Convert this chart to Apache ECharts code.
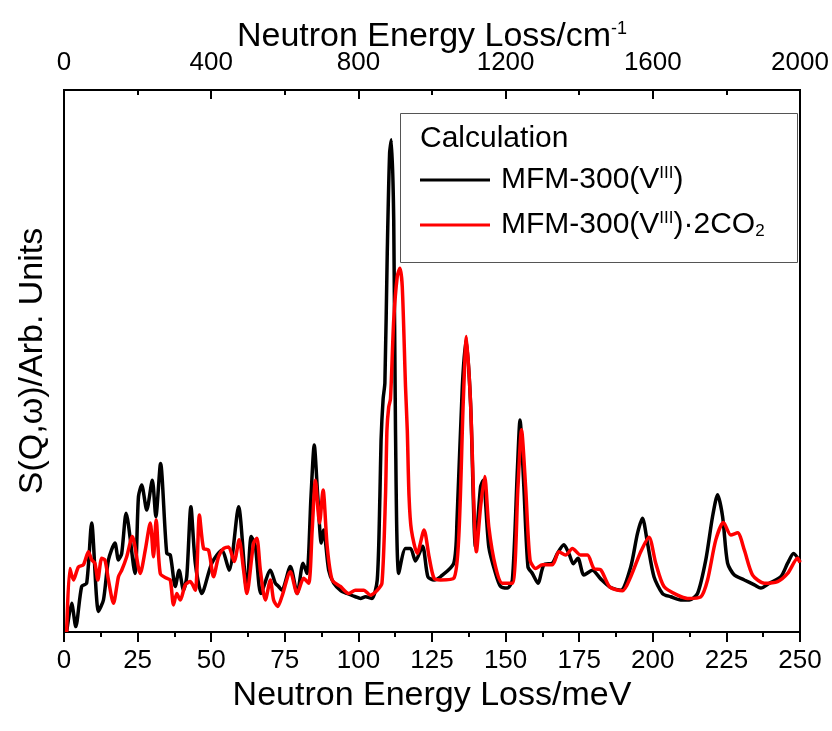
<!DOCTYPE html>
<html>
<head>
<meta charset="utf-8">
<script src="https://cdn.jsdelivr.net/npm/echarts@6/dist/echarts.min.js"></script>
<style>html,body{margin:0;padding:0;background:#fff}#c{width:832px;height:731px}</style>
</head>
<body>
<div id="c"></div>
<script>
// Energy (meV) and intensity (arb. units, 0-100 = full frame height)
const bareEnergy = [0.9,2.6,4.0,6.0,7.7,9.4,11.7,13.4,15.1,17.3,18.5,19.6,21.1,24.1,25.3,26.4,28.1,30.0,31.2,32.8,34.9,36.1,37.8,39.1,40.6,41.7,43.1,44.6,46.8,50.2,53.6,56.1,59.3,62.1,63.6,65.0,66.9,70.1,71.8,72.9,74.0,76.9,79.2,81.2,82.5,83.9,85.0,86.2,87.4,88.2,89.9,91.6,93.9,96.1,99.0,100.7,102.4,104.6,106.4,107.3,107.7,108.4,109.0,109.8,110.6,111.2,112.0,112.6,113.7,116.0,117.7,119.4,121.8,123.6,125.7,127.9,132.4,133.5,135.3,136.6,138.1,139.8,141.5,142.4,144.3,146.6,148.3,150.6,152.3,154.0,154.9,156.2,157.6,159.1,161.0,163.0,165.9,167.6,169.8,171.5,173.0,174.6,176.6,179.5,182.3,185.7,189.1,192.5,194.8,196.5,198.2,200.4,203.3,206.1,209.5,212.4,215.2,218.0,220.3,222.0,223.7,225.4,227.7,231.1,234.5,236.7,239.6,243.5,245.8,247.8,250];
const bareIntensity = [0,5.3,1.0,8.4,9.0,20.1,3.8,5.9,13.3,16.4,13.3,14.5,21.9,10.8,25.0,27.1,22.5,28.0,21.3,31.1,14.5,14.2,8.4,11.4,7.7,10.2,23.1,12.7,7.1,12.7,15.1,11.4,23.1,7.7,17.6,15.8,7.1,11.4,9.0,8.4,7.7,12.1,7.1,12.7,10.8,25.0,34.5,25.0,16.4,18.8,11.4,9.0,7.7,7.1,6.5,6.2,6.5,6.2,9.6,25.0,35.4,43.0,46.0,69.9,88.3,90.8,76.0,37.3,10.8,15.4,15.4,13.1,15.8,10.2,9.6,10.2,12.7,20.7,45.3,54.0,42.2,15.7,26.8,28.0,15.7,10.8,8.4,8.1,9.6,29.9,39.1,26.8,12.0,10.8,9.0,12.4,12.7,14.5,16.1,14.5,12.6,13.6,10.5,11.4,9.8,8.2,7.7,12.0,18.2,21.0,16.4,10.2,7.1,6.5,5.9,5.9,7.1,13.3,21.3,25.3,21.3,12.7,10.5,9.6,8.7,8.1,9.0,10.2,12.7,14.5,13.0];

const co2Energy = [0.9,2.0,3.2,4.9,6.6,8.3,9.4,10.5,11.5,12.8,13.9,15.1,16.8,18.5,19.6,21.3,23.2,25.9,27.6,29.3,30.4,31.3,32.7,34.9,36.1,37.2,38.3,39.5,41.2,42.9,44.6,46.0,47.4,49.1,50.8,52.5,54.2,55.9,57.8,59.5,61.0,62.1,64.4,65.5,66.7,68.4,70.1,71.2,72.6,74.0,76.9,79.2,81.4,83.1,84.3,85.4,86.8,88.0,89.4,91.1,93.9,96.7,99.0,101.8,104.1,106.4,108.0,109.2,109.7,110.3,110.9,112.0,113.2,114.1,114.9,116.0,116.6,117.2,118.0,120.0,122.3,124.0,125.7,127.9,132.4,134.1,135.6,136.7,138.1,140.1,141.5,142.9,144.3,146.6,148.9,152.3,154.2,155.4,156.8,158.3,160.2,162.5,165.9,168.1,170.4,172.7,175.5,177.8,180.0,182.3,185.4,189.7,192.5,195.9,198.7,201.0,203.8,208.4,211.8,216.3,218.6,221.4,224.0,226.5,228.8,231.1,233.9,237.9,242.4,245.8,249.2,250];
const co2Intensity = [0,11.7,9.6,12.0,12.4,14.8,13.3,12.7,9.6,13.6,13.3,9.6,5.3,10.2,11.4,13.9,17.6,10.8,15.1,20.1,13.9,20.7,10.8,9.9,9.6,5.0,7.1,5.9,8.7,9.3,7.7,21.6,15.4,15.1,10.2,13.9,15.4,15.7,13.0,17.0,11.4,7.1,16.4,17.3,11.4,5.9,9.6,5.9,4.7,6.5,11.1,7.1,9.9,9.0,18.8,28.0,20.1,26.2,15.8,9.6,8.4,7.1,7.7,7.7,6.8,7.7,9.0,25.0,37.3,41.5,43.0,57.6,65.6,67.1,63.7,45.3,37.3,25.0,18.8,14.5,18.8,13.9,9.9,9.6,9.9,17.6,42.2,54.5,42.2,14.8,23.1,28.7,19.4,12.0,9.0,9.0,26.8,37.3,26.8,13.3,11.7,12.4,12.4,14.8,14.2,15.4,14.2,14.2,11.7,11.5,8.3,7.6,10.2,14.8,17.5,12.7,8.4,6.8,6.2,6.5,9.6,17.0,20.2,17.9,18.3,15.1,10.5,9.0,9.3,10.8,13.6,12.8];

const meVTicks = {min: 0, max: 250, interval: 25};
const cmTicks = {min: 0, max: 2000, interval: 400};
const seriesNames = ['MFM-300(VIII)', 'MFM-300(VIII)·2CO2'];
const seriesLabels = ['MFM-300(V{sup|III})', 'MFM-300(V{sup|III})·2CO{sub|2}'];
const legendTitle = 'Calculation';

const FONT = '"Liberation Sans", Arial, sans-serif';
const zip = (xs, ys) => xs.map((x, i) => [x, ys[i]]);

const chart = echarts.init(document.getElementById('c'), null, {renderer: 'canvas'});
const legendText = {
  fontSize: 30, fontFamily: FONT, color: '#000', padding: [0, 0, 0, 6],
  rich: {
    sup: {fontSize: 17, fontFamily: FONT, color: '#000', verticalAlign: 'top'},
    sub: {fontSize: 17, fontFamily: FONT, color: '#000', verticalAlign: 'bottom'}
  }
};
const fmt = name => seriesLabels[seriesNames.indexOf(name)];
chart.setOption({
  animation: false,
  backgroundColor: '#fff',
  grid: {left: 64, right: 32, top: 90, bottom: 99, show: true, borderColor: '#000', borderWidth: 2, backgroundColor: 'transparent'},
  xAxis: [{
    type: 'value', position: 'bottom', min: meVTicks.min, max: meVTicks.max, interval: meVTicks.interval,
    name: 'Neutron Energy Loss/meV', nameLocation: 'middle', nameGap: 47, nameMoveOverlap: false,
    nameTextStyle: {fontSize: 34, fontFamily: FONT, color: '#000'},
    axisLine: {show: true, lineStyle: {color: '#000', width: 2}},
    axisTick: {show: true, inside: false, length: 10, lineStyle: {color: '#000', width: 2}},
    minorTick: {show: true, splitNumber: 2, length: 5, lineStyle: {color: '#000', width: 2}},
    axisLabel: {fontSize: 26, fontFamily: FONT, color: '#000', margin: 16, formatter: v => String(v)},
    splitLine: {show: false}
  }, {
    type: 'value', position: 'top', min: cmTicks.min, max: cmTicks.max, interval: cmTicks.interval,
    name: 'Neutron Energy Loss/cm{sup|-1}', nameLocation: 'middle', nameGap: 36, nameMoveOverlap: false,
    nameTextStyle: {fontSize: 34, fontFamily: FONT, color: '#000',
      rich: {sup: {fontSize: 18, fontFamily: FONT, color: '#000', verticalAlign: 'top'}}},
    axisLine: {show: true, lineStyle: {color: '#000', width: 2}},
    axisTick: {show: true, inside: true, length: 9, lineStyle: {color: '#000', width: 2}},
    minorTick: {show: true, splitNumber: 2, length: 5, lineStyle: {color: '#000', width: 2}},
    axisLabel: {fontSize: 26, fontFamily: FONT, color: '#000', margin: 14, formatter: v => String(v)},
    splitLine: {show: false}
  }],
  yAxis: [{
    type: 'value', min: 0, max: 100,
    name: 'S(Q,ω)/Arb. Units', nameLocation: 'middle', nameGap: 14, nameMoveOverlap: false,
    nameTextStyle: {fontSize: 34, fontFamily: FONT, color: '#000'},
    axisLine: {show: true, lineStyle: {color: '#000', width: 2}},
    axisTick: {show: false}, axisLabel: {show: false}, splitLine: {show: false}
  }],
  legend: [{
    data: [seriesNames[0]], left: 420, top: 165, padding: 0, orient: 'vertical',
    icon: 'rect', itemWidth: 70, itemHeight: 3, formatter: fmt, textStyle: legendText,
    selectedMode: false
  }, {
    data: [seriesNames[1]], left: 420, top: 210, padding: 0, orient: 'vertical',
    icon: 'rect', itemWidth: 70, itemHeight: 3, formatter: fmt, textStyle: legendText,
    selectedMode: false
  }],
  graphic: [{
    type: 'rect', left: 400, top: 113, z: 10,
    shape: {width: 397, height: 149},
    style: {fill: 'rgba(0,0,0,0)', stroke: '#555', lineWidth: 1}
  }, {
    type: 'text', left: 420, top: 124, z: 11,
    style: {text: legendTitle, fontSize: 30, fontFamily: FONT, fill: '#000'}
  }],
  series: [{
    name: seriesNames[0], type: 'line', xAxisIndex: 0, yAxisIndex: 0,
    data: zip(bareEnergy, bareIntensity), showSymbol: false, symbol: 'none',
    smooth: 0.25, clip: true, color: '#000',
    lineStyle: {color: '#000', width: 3.5}
  }, {
    name: seriesNames[1], type: 'line', xAxisIndex: 0, yAxisIndex: 0,
    data: zip(co2Energy, co2Intensity), showSymbol: false, symbol: 'none',
    smooth: 0.25, clip: true, color: '#ff0000',
    lineStyle: {color: '#ff0000', width: 3.5}
  }]
});
</script>
</body>
</html>
